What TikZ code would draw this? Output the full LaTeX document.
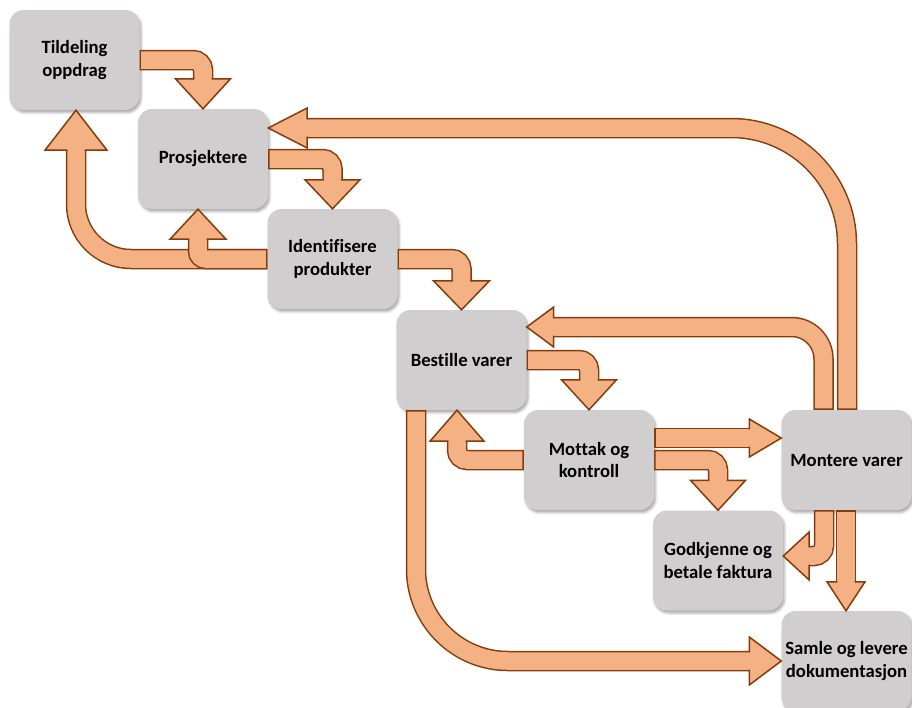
\documentclass[tikz,border=0pt]{standalone}
\usepackage{fontspec}
\setmainfont{Carlito}[Ligatures={NoCommon,NoContextual}, RawFeature={-liga;-dlig;-clig}]
\usetikzlibrary{calc,shadows.blur}

\definecolor{boxgrey}{HTML}{D0CECE}
\definecolor{arrowfill}{HTML}{F4B183}
\definecolor{arrowline}{HTML}{843C0C}

% head of a block arrow: apex, direction (canvas degrees), length, half width
\newcommand\arrowhead[4]{%
  \begin{scope}[shift={#1}, rotate=#2]
    \fill[arrowfill] (0,0) -- (-#3,#4) -- (-#3,-#4) -- cycle;
    \draw[headline] (-#3,8.6) -- (-#3,#4) -- (0,0) -- (-#3,-#4) -- (-#3,-8.6);
  \end{scope}}

% block arrow: shaft path, corner radius, apex, direction, head length, head half width
\newcommand\blockarrow[6]{%
  \draw[shaftout, rounded corners=#2] #1;
  \draw[shaftin, rounded corners=#2] #1;
  \arrowhead{#3}{#4}{#5}{#6}}

\begin{document}
\begin{tikzpicture}[x=1pt, y=-1pt,
  box/.style={rounded corners=14pt, fill=boxgrey, minimum width=130pt,
    minimum height=100pt, inner sep=0pt, align=center,
    font=\fontsize{18.7}{22.8}\selectfont\bfseries,
    blur shadow={shadow xshift=1.5pt, shadow yshift=-2.5pt,
      shadow blur radius=2.5pt, shadow opacity=35}},
  shaftout/.style={draw=arrowline, line width=20.5pt},
  shaftin/.style={draw=arrowfill, line width=17.5pt, shorten <=1.5pt},
  headline/.style={draw=arrowline, line width=1.5pt, line join=miter}]

\useasboundingbox (0,0) rectangle (912,707);

% process steps
\node[box] (tild) at (74.5,60)   {Tildeling\\oppdrag};
\node[box] (pros) at (203,159)   {Prosjektere};
\node[box] (iden) at (332.5,259) {Identifisere\\produkter};
\node[box] (best) at (461.5,360) {Bestille varer};
\node[box] (mott) at (589,460)   {Mottak og\\kontroll};
\node[box] (mont) at (846.5,460) {Montere varer};
\node[box] (godk) at (718,560.5) {Godkjenne og\\betale faktura};
\node[box] (saml) at (846.5,661) {Samle og levere\\dokumentasjon};

% forward steps along the diagonal
\blockarrow{(tild.east) -| ($(pros.north)+(0,-28)$)}{10pt}{(pros.north)}{-90}{30}{27.5}
\blockarrow{(pros.east) -| ($(iden.north)+(0,-27)$)}{10pt}{(iden.north)}{-90}{29}{27.5}
\blockarrow{(iden.east) -| ($(best.north)+(0,-27)$)}{10pt}{(best.north)}{-90}{29}{28}
\blockarrow{(best.east) -| ($(mott.north)+(0,-28)$)}{10pt}{(mott.north)}{-90}{30}{27.5}
\blockarrow{(mott.east) -| ($(godk.north)+(0,-28)$)}{10pt}{(godk.north)}{-90}{30}{27.5}
\blockarrow{($(mott.east)+(0,-22)$) -- ($(mont.west)+(-30,-22)$)}{0pt}{($(mont.west)+(0,-22)$)}{0}{32}{19}

% feedback loops
\blockarrow{(mott.west) -| ($(best.south)+(-4.5,29)$)}{10pt}{($(best.south)+(-4.5,0)$)}{90}{31}{27}
\blockarrow{(iden.west) -| ($(tild.south)+(1.5,38)$)}{55pt}{($(tild.south)+(1.5,0)$)}{90}{40}{31}
\blockarrow{(iden.west) -| ($(pros.south)+(-5,28)$)}{8pt}{($(pros.south)+(-5,0)$)}{90}{30}{28}
\blockarrow{($(mont.north)+(0.5,0)$) |- ($(pros.east)+(37,-31)$)}{116pt}{($(pros.east)+(0,-31)$)}{180}{39}{20}
\blockarrow{($(mont.north)+(-23,0)$) |- ($(best.east)+(25,-33)$)}{32pt}{($(best.east)+(0,-33)$)}{180}{27}{20}

% closing steps
\blockarrow{($(mont.south)+(-22.5,0)$) |- ($(godk.east)+(24,-4.5)$)}{10pt}{($(godk.east)+(0,-4.5)$)}{180}{26}{24}
\blockarrow{($(mont.south)+(-0.5,0)$) -- ($(saml.north)+(-0.5,-27)$)}{0pt}{($(saml.north)+(-0.5,0)$)}{-90}{29}{19}
\blockarrow{($(best.south)+(-45.5,0)$) |- ($(saml.west)+(-30,0)$)}{92pt}{(saml.west)}{0}{32}{24}

\end{tikzpicture}
\end{document}
